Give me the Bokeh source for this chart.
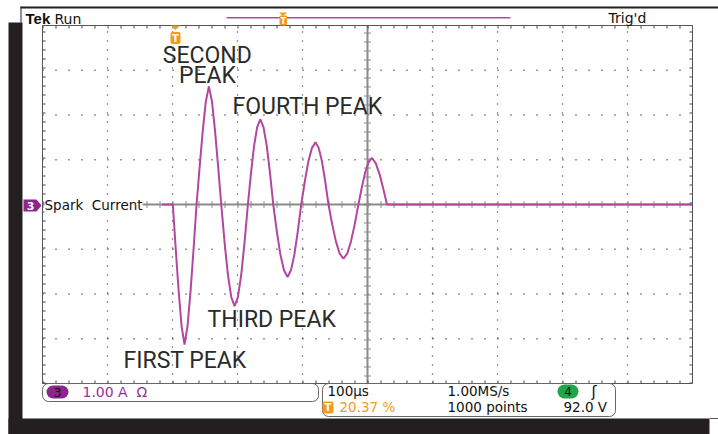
from bokeh.plotting import figure
from bokeh.models import Label, BoxAnnotation, PolyAnnotation, Range1d
from bokeh.embed import file_html
from bokeh.resources import INLINE

time_us = [184, 200.5,
           205, 209.5, 214, 218.5, 223.1, 227.75, 232.4, 237,
           241.75, 246.5, 251.25, 256, 260.75, 265.5, 270.25, 275,
           280.1, 285.25, 290.4, 295.5, 300.6, 305.75, 310.9, 316,
           320.75, 325.5, 330.25, 335, 340, 345, 350, 355,
           360.5, 366, 371.5, 377, 382.25, 387.5, 392.75, 398,
           403.5, 409, 414.5, 420, 425, 430, 435, 440,
           445.75, 451.5, 457.25, 463, 468.75, 474.5, 480.25, 486,
           491.25, 496.5, 501.75, 507, 512.75, 518.5, 524.25, 530, 1000]
current_a = [0.0, 0.0,
             -1.0, -1.94, -2.72, -3.13, -2.72, -1.94, -1.0, 0.0,
             0.84, 1.64, 2.30, 2.64, 2.30, 1.64, 0.84, 0.0,
             -0.84, -1.57, -2.07, -2.27, -2.07, -1.57, -0.84, 0.0,
             0.70, 1.31, 1.73, 1.90, 1.73, 1.31, 0.70, 0.0,
             -0.60, -1.12, -1.47, -1.62, -1.47, -1.12, -0.60, 0.0,
             0.51, 0.96, 1.26, 1.39, 1.26, 0.96, 0.51, 0.0,
             -0.45, -0.83, -1.10, -1.21, -1.10, -0.83, -0.45, 0.0,
             0.38, 0.72, 0.95, 1.04, 0.92, 0.68, 0.35, 0.0, 0.0]

x_lim = [0, 1000]          # 10 div x 100 us
y_lim = [-4, 4]            # 8 div x 1.00 A
x_major = [100, 200, 300, 400, 600, 700, 800, 900]
y_major = [-3, -2, -1, 1, 2, 3]
x_centre = 500

peak_labels = ["FIRST PEAK", "SECOND", "PEAK", "THIRD PEAK", "FOURTH PEAK"]
status_row1 = ["100µs", "1.00MS/s", "92.0 V"]
status_row2 = ["20.37 %", "1000 points"]

TRACE = "#b4469f"
PURPLE = "#8e248e"
ORANGE = "#f39a1e"
GREEN = "#1fa64a"
DARK = "#231f20"
GRID = "#8a8a8a"

# ---- layout: graticule placed at these canvas pixels ----
W, H = 718, 434
PX_L, PX_R, PX_T, PX_B = 42, 692, 25, 383
ux = (x_lim[1] - x_lim[0]) / (PX_R - PX_L)     # us per pixel
uy = (y_lim[1] - y_lim[0]) / (PX_B - PX_T)     # A per pixel
xr = Range1d(x_lim[0] - PX_L * ux, x_lim[1] + (W - PX_R) * ux)
yr = Range1d(y_lim[0] - (H - PX_B) * uy, y_lim[1] + PX_T * uy)

p = figure(width=W, height=H, x_range=xr, y_range=yr, title=None,
           output_backend="svg", toolbar_location=None,
           x_axis_location=None, y_axis_location=None, min_border=0)
p.background_fill_color = "white"
p.border_fill_color = "white"
p.outline_line_color = None
p.xgrid.visible = False
p.ygrid.visible = False

# dotted graticule
p.multi_line([[x, x] for x in x_major], [y_lim for _ in x_major],
             line_color="#333333", line_width=1.3, line_dash="1 8")
p.multi_line([x_lim for _ in y_major], [[y, y] for y in y_major],
             line_color="#333333", line_width=1.3, line_dash="1 12")

# centre cross with minor ticks
p.line(x_lim, [0, 0], line_color=GRID, line_width=2)
p.line([x_centre, x_centre], y_lim, line_color=GRID, line_width=2)
p.line(x_lim, [0, 0], line_color=GRID, line_width=7, line_dash="1 12")
p.line([x_centre, x_centre], [0, y_lim[1]], line_color=GRID, line_width=7, line_dash="1 8")
p.line([x_centre, x_centre], [0, y_lim[0]], line_color=GRID, line_width=7, line_dash="1 8")

# border ticks, pointing inward
for yy, s in ((y_lim[1], -1), (y_lim[0], 1)):
    p.line(x_lim, [yy + s * 1.5 * uy] * 2, line_color="#444444", line_width=3, line_dash="1 12")
for xx, s in ((x_lim[0], 1), (x_lim[1], -1)):
    p.line([xx + s * 1.5 * ux] * 2, y_lim, line_color="#444444", line_width=3, line_dash="1 8")
p.add_layout(BoxAnnotation(left=x_lim[0], right=x_lim[1], bottom=y_lim[0], top=y_lim[1],
                           fill_alpha=0, line_color="#555555", line_alpha=1, line_width=1))

# trace
p.line(time_us, current_a, line_color=TRACE, line_width=2)


def box(l, r, t, b, fill, line=None, radius=0):
    p.add_layout(BoxAnnotation(left=l, right=r, top=t, bottom=b,
                               left_units="canvas", right_units="canvas",
                               top_units="canvas", bottom_units="canvas",
                               fill_color=fill if fill else "white", fill_alpha=1 if fill else 0,
                               line_color=line if line else "white", line_alpha=1 if line else 0,
                               line_width=1, border_radius=radius, level="overlay"))


def poly(xs, ys, fill):
    p.add_layout(PolyAnnotation(xs=xs, ys=ys, xs_units="canvas", ys_units="canvas",
                                fill_color=fill, fill_alpha=1, line_alpha=0, level="overlay"))


def lab(x, y, text, size="14px", color="#111111", font="DejaVu Sans", style="normal",
        align="left", bg=None):
    # y is the vertical centre of the capital letters
    p.add_layout(Label(x=x, y=y, x_units="canvas", y_units="canvas", text=text,
                       text_font=font, text_font_size=size, text_color=color,
                       text_font_style=style, text_align=align, text_baseline="middle",
                       background_fill_color=bg, background_fill_alpha=1 if bg else 0,
                       level="overlay"))


# outer panel decoration
box(8, 22, 22, 434, DARK)
box(8, 709, 418, 434, DARK)
box(20, 718, 6, 8, DARK)
box(20, 21, 6, 22, DARK)
box(709, 718, 417.5, 418.5, "#555555")

# top line
lab(25, 18, "Tek", size="15px", font="Liberation Sans", style="bold")
lab(54, 18, "Run", size="14px")
lab(608, 17.5, "Trig'd", size="14px")
box(226, 510, 16.5, 18, "#a5509d")
poly([278.5, 286.5, 282.5], [12, 12, 15.5], ORANGE)
box(279, 286.5, 15, 25, ORANGE, radius=1)
lab(282.75, 20.5, "T", size="8px", color="white", style="bold", align="center")

# trigger marker on the graticule
poly([170.5, 179.5, 175], [25, 25, 29.5], ORANGE)
box(170, 180, 31.5, 43.5, ORANGE, radius=2)
lab(175, 38, "T", size="10px", color="white", style="bold", align="center")

# channel marker
poly([23, 36, 41, 36, 23], [199, 199, 205, 211, 211], PURPLE)
lab(30, 205.5, "3", size="11px", color="white", style="bold", align="center")
lab(44, 204.5, "Spark\u00a0 Current", size="13.5px", bg="white")

# peak annotations
PF = "Roboto"
PC = "#2a2a2a"
lab(206.8, 55, peak_labels[1], size="23px", font=PF, color=PC, align="center")
lab(207, 74.5, peak_labels[2], size="23px", font=PF, color=PC, align="center")
lab(232, 106, peak_labels[4], size="23px", font=PF, color=PC)
lab(207, 318.7, peak_labels[3], size="23px", font=PF, color=PC)
lab(123, 360, peak_labels[0], size="23px", font=PF, color=PC)

# status bar
box(42, 318, 383, 401, None, line="#666666", radius=6)
box(322, 615, 383, 416, None, line="#666666", radius=6)
box(46, 68, 385, 398, PURPLE, radius=7)
lab(57, 391.5, "3", size="12px", align="center")
lab(82, 391.7, "1.00\u00a0A\u00a0\u00a0Ω", size="14px", color="#93329a")
lab(327, 390, status_row1[0], size="13.5px")
lab(447, 390, status_row1[1], size="13.5px")
box(557, 578, 384, 398, GREEN, radius=7)
lab(567.5, 391, "4", size="12px", align="center")
lab(591, 391, "ʃ", size="15px")
box(322, 333, 401, 413, ORANGE, radius=2)
lab(327.5, 407, "T", size="10px", color="white", style="bold", align="center")
lab(339, 406.7, status_row2[0], size="13.5px", color=ORANGE)
lab(447, 406.7, status_row2[1], size="13.5px")
lab(563, 406.7, status_row1[2], size="13.5px")

open("out.html", "w").write(file_html(p, INLINE))
